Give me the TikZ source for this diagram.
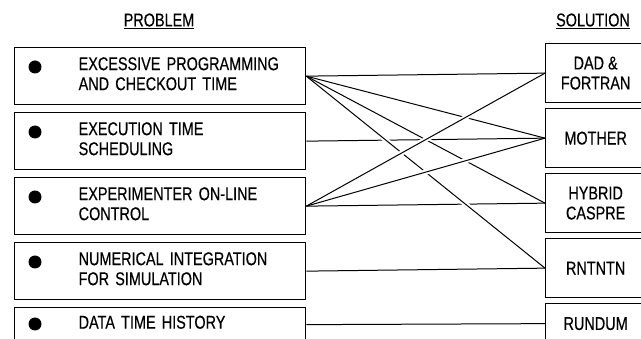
\documentclass[tikz,border=0pt]{standalone}
\usepackage{fontspec}
\usepackage{tikz}
\usetikzlibrary{positioning}
\newfontfamily\chartfont{Liberation Sans}[FakeStretch=0.78, FakeBold=0.4]
\newcommand{\probtext}[1]{\hspace*{64pt}\begin{tabular}{@{}l@{}}#1\end{tabular}}

\begin{document}
\begin{tikzpicture}[x=1pt, y=-1pt,
    font=\chartfont\fontsize{18.5}{20}\selectfont,
    problem/.style={draw, line width=1.3pt, rectangle, text width=291pt, inner xsep=0pt, align=left, minimum height=57pt},
    solution/.style={draw, line width=1.3pt, rectangle, minimum width=100pt, minimum height=59pt, align=center, inner sep=2pt},
    link/.style={line width=1pt},
    gap/.style={draw=white, line width=5pt, shorten <=22pt, shorten >=22pt}
  ]
    \useasboundingbox (0,0) rectangle (641,339);
    \clip (0,0) rectangle (641,339);
    \node (problemhead) at (159,21) {\underline{PROBLEM}};
    \node (solutionhead) at (593,21) {\underline{SOLUTION}};
    \node[problem, anchor=north west] (p1) at (14,47) {\probtext{EXCESSIVE PROGRAMMING\\AND CHECKOUT TIME}};
    \node[problem, below=6.7pt of p1] (p2) {\probtext{EXECUTION TIME\\SCHEDULING}};
    \node[problem, below=6.7pt of p2] (p3) {\probtext{EXPERIMENTER ON-LINE\\CONTROL}};
    \node[problem, below=6.7pt of p3] (p4) {\probtext{NUMERICAL INTEGRATION\\FOR SIMULATION}};
    \node[problem, below=6.7pt of p4, minimum height=34pt] (p5) {\probtext{DATA TIME HISTORY}};
    \foreach \b/\dy in {p1/20,p2/20,p3/20,p4/20,p5/17}
      \fill ([shift={(21,\dy)}]\b.north west) circle (6.5pt);
    \node[solution, anchor=north west] (s1) at (545,43) {DAD \&\\FORTRAN};
    \node[solution, below=4.7pt of s1] (s2) {MOTHER};
    \node[solution, below=4.7pt of s2] (s3) {HYBRID\\CASPRE};
    \node[solution, below=4.7pt of s3] (s4) {RNTNTN};
    \node[solution, below=4.7pt of s4, minimum height=40pt] (s5) {RUNDUM};
    \draw[link] (p1.east) -- (s1.west);
    \draw[link] (p2.east) -- (s2.west);
    \draw[link] (p3.east) -- (s3.west);
    \draw[link] (p4.east) -- (s4.west);
    \draw[link] (p5.east) -- (s5.west);
    \draw[link] (p1.east) -- (s2.west);
    \path[gap] (p1.east) -- (s3.west);
    \draw[link] (p1.east) -- (s3.west);
    \path[gap] (p1.east) -- (s4.west);
    \draw[link] (p1.east) -- (s4.west);
    \path[gap] (p3.east) -- (s1.west);
    \draw[link] (p3.east) -- (s1.west);
    \path[gap] (p3.east) -- (s2.west);
    \draw[link] (p3.east) -- (s2.west);
  \end{tikzpicture}
\end{document}
